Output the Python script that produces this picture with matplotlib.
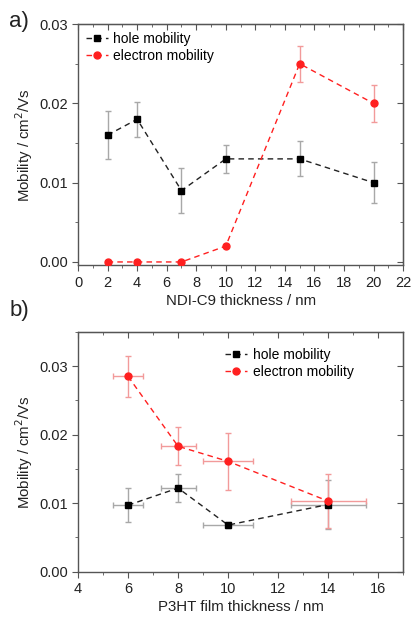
import numpy as np
import matplotlib
matplotlib.use("Agg")
import matplotlib.pyplot as plt
from matplotlib.ticker import MultipleLocator, AutoMinorLocator, FormatStrFormatter

plt.rcParams['font.family'] = ['Liberation Sans', 'DejaVu Sans']

# -----------------------------
# DATA
# -----------------------------
# panel a: NDI-C9 thickness
a_thick = [2, 4, 7, 10, 15, 20]
a_hole = [0.016, 0.018, 0.009, 0.013, 0.013, 0.010]
a_hole_err = [0.003, 0.0022, 0.0028, 0.0018, 0.0022, 0.0026]
a_elec = [0.0, 0.0, 0.0, 0.002, 0.025, 0.020]
a_elec_err = [0.0, 0.0, 0.0, 0.0003, 0.0023, 0.0023]

# panel b: P3HT film thickness
b_thick = [6, 8, 10, 14]
b_thick_err = [0.6, 0.7, 1.0, 1.5]
b_hole = [0.0097, 0.0122, 0.0068, 0.0098]
b_hole_err = [0.0025, 0.002, 0.0004, 0.0036]
b_elec = [0.0285, 0.0183, 0.0161, 0.0103]
b_elec_err = [0.003, 0.0028, 0.0042, 0.004]

hole_col = '#222222'
hole_err_col = '#a8a8a8'
elec_col = '#ff2020'
elec_err_col = '#f29a9a'
text_col = '#222222'

fig = plt.figure(figsize=(4.13, 6.18), dpi=100)
ax_a = fig.add_axes([0.189, 0.571, 0.787, 0.390])
ax_b = fig.add_axes([0.189, 0.075, 0.787, 0.388])


def style_axes(ax):
    for s in ax.spines.values():
        s.set_color('#555555')
        s.set_linewidth(1.0)
    ax.tick_params(which='both', direction='out', labelsize=10.5, colors='#555555',
                   labelcolor=text_col, top=False, right=False)
    ax.tick_params(which='major', length=4)
    ax.tick_params(which='minor', length=2)
    ax.xaxis.set_minor_locator(AutoMinorLocator(2))
    ax.yaxis.set_minor_locator(AutoMinorLocator(2))
    # mirrored ticks pointing inward on top / right
    top = ax.secondary_xaxis('top')
    right = ax.secondary_yaxis('right')
    for sec in (top, right):
        sec.tick_params(which='both', direction='in', labelleft=False, labelright=False,
                        labeltop=False, labelbottom=False, colors='#555555')
        sec.tick_params(which='major', length=4)
        sec.tick_params(which='minor', length=2)
    top.xaxis.set_major_locator(ax.xaxis.get_major_locator())
    top.xaxis.set_minor_locator(AutoMinorLocator(2))
    right.yaxis.set_major_locator(ax.yaxis.get_major_locator())
    right.yaxis.set_minor_locator(AutoMinorLocator(2))


def draw_series(ax, x, hole, hole_err, elec, elec_err, xerr=None):
    ax.errorbar(x, hole, xerr=xerr, yerr=hole_err, fmt='none', ecolor=hole_err_col,
                elinewidth=1.0, capsize=2.5, capthick=1.0, zorder=2)
    ax.errorbar(x, elec, xerr=xerr, yerr=elec_err, fmt='none', ecolor=elec_err_col,
                elinewidth=1.0, capsize=2.5, capthick=1.0, zorder=2)
    ax.plot(x, hole, ls=(0, (4, 3)), color=hole_col, lw=1.0, marker='s',
            ms=4.2, mfc='black', mec='black', label='hole mobility', zorder=3)
    ax.plot(x, elec, ls=(0, (4, 3)), color=elec_col, lw=1.0, marker='o',
            ms=5, mfc=elec_col, mec=elec_col, label='electron mobility', zorder=3)


# -----------------------------
# PANEL a
# -----------------------------
draw_series(ax_a, a_thick, a_hole, a_hole_err, a_elec, a_elec_err)
ax_a.set_xlim(0, 22)
ax_a.set_ylim(-0.0004, 0.03)
ax_a.xaxis.set_major_locator(MultipleLocator(2))
ax_a.yaxis.set_major_locator(MultipleLocator(0.01))
ax_a.yaxis.set_major_formatter(FormatStrFormatter('%.2f'))
style_axes(ax_a)
ax_a.set_xlabel('NDI-C9 thickness / nm', fontsize=10.8, color=text_col, labelpad=3)
ax_a.set_ylabel('Mobility / cm$^2$/Vs', fontsize=10.8, color=text_col, labelpad=3)
ax_a.legend(loc='upper left', bbox_to_anchor=(0.0, 1.0), frameon=False, fontsize=10,
            handlelength=1.6, handletextpad=0.4, borderaxespad=0.15, labelspacing=0.2)
fig.text(0.022, 0.982, 'a)', fontsize=16, va='top', ha='left', color=text_col)

# -----------------------------
# PANEL b
# -----------------------------
draw_series(ax_b, b_thick, b_hole, b_hole_err, b_elec, b_elec_err, xerr=b_thick_err)
ax_b.set_xlim(4, 17)
ax_b.set_ylim(0, 0.035)
ax_b.xaxis.set_major_locator(MultipleLocator(2))
ax_b.yaxis.set_major_locator(MultipleLocator(0.01))
ax_b.yaxis.set_major_formatter(FormatStrFormatter('%.2f'))
style_axes(ax_b)
ax_b.set_xlabel('P3HT film thickness / nm', fontsize=10.8, color=text_col, labelpad=3)
ax_b.set_ylabel('Mobility / cm$^2$/Vs', fontsize=10.8, color=text_col, labelpad=3)
ax_b.legend(loc='upper left', bbox_to_anchor=(0.435, 0.955), frameon=False, fontsize=10,
            handlelength=1.6, handletextpad=0.4, borderaxespad=0.0, labelspacing=0.2)
fig.text(0.022, 0.515, 'b)', fontsize=16, va='top', ha='left', color=text_col)

fig.savefig('out.png', dpi=100)
